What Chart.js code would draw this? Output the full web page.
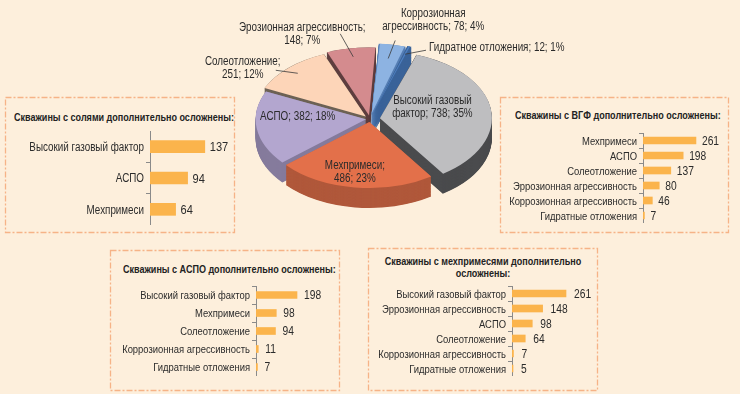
<!DOCTYPE html>
<html>
<head>
<meta charset="utf-8">
<script src="https://cdn.jsdelivr.net/npm/chart.js@4.4.1/dist/chart.umd.min.js"></script>
<style>
html,body{margin:0;padding:0;}
body{width:740px;height:394px;background:#fdefdc;position:relative;overflow:hidden;
  font-family:'Liberation Sans',Arial,sans-serif;color:#2b2b2b;}
canvas{position:absolute;}
.frames{position:absolute;left:0;top:0;}
.box-title{position:absolute;font-weight:bold;font-size:11px;white-space:nowrap;color:#222;line-height:12px;
  transform:scaleX(0.82);transform-origin:0 0;}
.box-title.center{transform-origin:50% 0;text-align:center;}
</style>
</head>
<body>
<svg class="frames" width="740" height="394">
  <g fill="none" stroke="#f6b387" stroke-width="1.3" stroke-dasharray="6 2 2 2">
    <rect x="5.5" y="97.5" width="229" height="135"/>
    <rect x="500.5" y="97.5" width="228" height="135"/>
    <rect x="110.5" y="250.5" width="229" height="140"/>
    <rect x="368.5" y="248.5" width="229" height="142"/>
  </g>
</svg>

<div class="box-title" style="left:14px;top:111px">Скважины с солями дополнительно осложнены:</div>
<div class="box-title" style="left:515px;top:109px">Скважины с ВГФ дополнительно осложнены:</div>
<div class="box-title" style="left:123px;top:263px">Скважины с АСПО дополнительно осложнены:</div>
<div class="box-title center" style="left:333px;width:300px;top:255px">Скважины с мехпримесями дополнительно<br>осложнены:</div>

<canvas id="bar1" width="222" height="94" style="left:10px;top:131px"></canvas>
<canvas id="bar2" width="222" height="90" style="left:505px;top:133px"></canvas>
<canvas id="bar3" width="226" height="90" style="left:112px;top:286px"></canvas>
<canvas id="bar4" width="226" height="90" style="left:370px;top:286px"></canvas>
<canvas id="pie" width="400" height="260" style="left:190px;top:-11px"></canvas>

<script>
// данные круговой диаграммы
const pieCategories = ['Высокий газовый фактор', 'Мехпримеси', 'АСПО', 'Солеотложение',
  'Эрозионная агрессивность', 'Коррозионная агрессивность', 'Гидратное отложения'];
const pieValues = [738, 486, 382, 251, 148, 78, 12];

// данные по блокам
const saltLabels = ['Высокий газовый фактор', 'АСПО', 'Мехпримеси'];
const saltValues = [137, 94, 64];

const vgfLabels = ['Мехпримеси', 'АСПО', 'Солеотложение', 'Эррозионная агрессивность',
  'Коррозионная агрессивность', 'Гидратные отложения'];
const vgfValues = [261, 198, 137, 80, 46, 7];

const aspoLabels = ['Высокий газовый фактор', 'Мехпримеси', 'Солеотложение',
  'Коррозионная агрессивность', 'Гидратные отложения'];
const aspoValues = [198, 98, 94, 11, 7];

const mechLabels = ['Высокий газовый фактор', 'Эррозионная агрессивность', 'АСПО', 'Солеотложение',
  'Коррозионная агрессивность', 'Гидратные отложения'];
const mechValues = [261, 148, 98, 64, 7, 5];

const FONT = "'Liberation Sans', Arial, sans-serif";
const SX = 0.82;   // узкий шрифт
const TEXT = '#2b2b2b';
const BAR_COLOR = '#fbb44c';

// вид круговой
const K = 0.6;      // наклон
const DEPTH = 20;   // толщина
const topColors  = ['#bebec0', '#e3704a', '#b3a6cf', '#fdd5b8', '#d48b8e', '#8db3e2', '#4e7fc1'];
const sideColors = ['#4a4b4d', '#b0583b', '#857b9c', '#6d6255', '#5e3e3f', '#557eb4', '#3a6399'];
const offsets    = [40, 20, 16, 24, 24, 36, 36];
const labelBreaks = ['газовый', 'Мехпримеси;', null, 'Солеотложение;', 'агрессивность;', 'Коррозионная', null];
const pieLabelLayout = [
  {f: 0.5,  dx: -2,  dy: -7},
  {f: 0.72, dx: -4,  dy: 3},
  {f: 0.6,  dx: -3,  dy: -8},
  {f: 0.9,  line: [-22, -3],  dx: -55, dy: -5},
  {f: 0.9,  line: [-13, -23], dx: -51, dy: -23},
  {f: 0.85, line: [7, -18],   dx: 45,  dy: -38},
  {f: 0.95, line: [21, -4],   dx: 24,  dy: -7, align: 'left'}
];

const total = pieValues.reduce((s, v) => s + v, 0);

function narrowText(ctx, text, x, y, align){
  ctx.save();
  ctx.translate(x, y);
  ctx.scale(SX, 1);
  ctx.textAlign = align;
  ctx.fillText(text, 0, 0);
  ctx.restore();
}

function pieLabelLines(i){
  const full = pieCategories[i] + '; ' + pieValues[i] + '; ' + Math.round(pieValues[i] / total * 100) + '%';
  const brk = labelBreaks[i];
  if (!brk) return [full];
  const p = full.indexOf(brk) + brk.length;
  return [full.slice(0, p).trim(), full.slice(p).trim()];
}

function arcGeom(a){
  const off = (a.options.offset || 0) / 4;
  const mid = (a.startAngle + a.endAngle) / 2;
  const fix = 1 - Math.sin(Math.min(Math.PI, a.circumference));
  return {off, mid, r: a.outerRadius + off * fix};
}

// псевдо-3D: сжатие по вертикали + боковые стенки
const pie3d = {
  id: 'pie3d',
  beforeDatasetsDraw(chart){
    const ctx = chart.ctx;
    const arcs = chart.getDatasetMeta(0).data;
    const cx = arcs[0].x, cy = arcs[0].y;
    ctx.save();
    ctx.translate(cx, cy); ctx.scale(1, K); ctx.translate(-cx, -cy);
    for (let s = DEPTH / K; s > 0; s -= 1){
      arcs.forEach((a, i) => {
        const g = arcGeom(a);
        const ox = a.x + Math.cos(g.mid) * g.off;
        const oy = a.y + Math.sin(g.mid) * g.off + s;
        ctx.beginPath();
        ctx.moveTo(ox, oy);
        ctx.arc(ox, oy, g.r, a.startAngle, a.endAngle);
        ctx.closePath();
        ctx.fillStyle = sideColors[i];
        ctx.fill();
      });
    }
  },
  afterDatasetsDraw(chart){
    chart.ctx.restore();
  },
  afterDraw(chart){
    const ctx = chart.ctx;
    const arcs = chart.getDatasetMeta(0).data;
    ctx.save();
    ctx.font = '12px ' + FONT;
    ctx.fillStyle = TEXT;
    ctx.strokeStyle = '#3a3a3a';
    ctx.lineWidth = 0.8;
    ctx.textBaseline = 'middle';
    arcs.forEach((a, i) => {
      const L = pieLabelLayout[i];
      const g = arcGeom(a);
      const d = g.off + a.outerRadius * L.f;
      const px = a.x + Math.cos(g.mid) * d;
      const py = a.y + Math.sin(g.mid) * d * K;
      if (L.line){
        ctx.beginPath(); ctx.moveTo(px, py); ctx.lineTo(px + L.line[0], py + L.line[1]); ctx.stroke();
      }
      const lines = pieLabelLines(i);
      const h = 13, y0 = py + L.dy - (lines.length - 1) * h / 2;
      lines.forEach((t, j) => narrowText(ctx, t, px + L.dx, y0 + j * h, L.align || 'center'));
    });
    ctx.restore();
  }
};

new Chart(document.getElementById('pie'), {
  type: 'pie',
  data: {
    labels: pieCategories,
    datasets: [{data: pieValues, backgroundColor: topColors, borderWidth: 0, offset: offsets}]
  },
  options: {
    responsive: false, animation: false, devicePixelRatio: 1,
    rotation: 19,
    layout: {padding: {left: 50, right: 90, top: 0, bottom: 0}},
    plugins: {legend: {display: false}, tooltip: {enabled: false}}
  },
  plugins: [pie3d]
});

// подписи категорий и значений у столбиков
const barText = {
  id: 'barText',
  afterDraw(chart, args, opts){
    const ctx = chart.ctx;
    const meta = chart.getDatasetMeta(0);
    const ys = chart.scales.y;
    ctx.save();
    ctx.fillStyle = TEXT;
    ctx.textBaseline = 'middle';
    ctx.font = opts.size + 'px ' + FONT;
    chart.data.labels.forEach((lab, i) => {
      narrowText(ctx, lab, ys.right - 6, ys.getPixelForTick(i) + 1, 'right');
    });
    ctx.font = opts.valueSize + 'px ' + FONT;
    meta.data.forEach((bar, i) => {
      narrowText(ctx, String(chart.data.datasets[0].data[i]), bar.x + opts.gap, bar.y + 1, 'left');
    });
    ctx.restore();
  }
};

function makeBar(id, labels, values, max, axisWidth, thickness, size, valueSize, gap){
  new Chart(document.getElementById(id), {
    type: 'bar',
    data: {labels, datasets: [{data: values, backgroundColor: BAR_COLOR, barThickness: thickness}]},
    options: {
      indexAxis: 'y', responsive: false, animation: false, devicePixelRatio: 1,
      layout: {padding: 0},
      plugins: {legend: {display: false}, tooltip: {enabled: false}, barText: {size, valueSize, gap}},
      scales: {
        x: {display: false, min: 0, max},
        y: {
          grid: {drawOnChartArea: false, drawTicks: true, tickLength: 4, color: '#8a8a8a', offset: true},
          border: {color: '#8a8a8a'},
          ticks: {display: false},
          afterFit(s){ s.width = axisWidth; }
        }
      }
    },
    plugins: [barText]
  });
}

makeBar('bar1', saltLabels, saltValues, 205, 140, 12, 12, 13.5, 5);
makeBar('bar2', vgfLabels, vgfValues, 414, 138, 7, 11.5, 12.5, 6);
makeBar('bar3', aspoLabels, aspoValues, 396, 144, 7, 11.5, 12.5, 7);
makeBar('bar4', mechLabels, mechValues, 406, 142, 7, 11.5, 12.5, 8);
</script>
</body>
</html>
